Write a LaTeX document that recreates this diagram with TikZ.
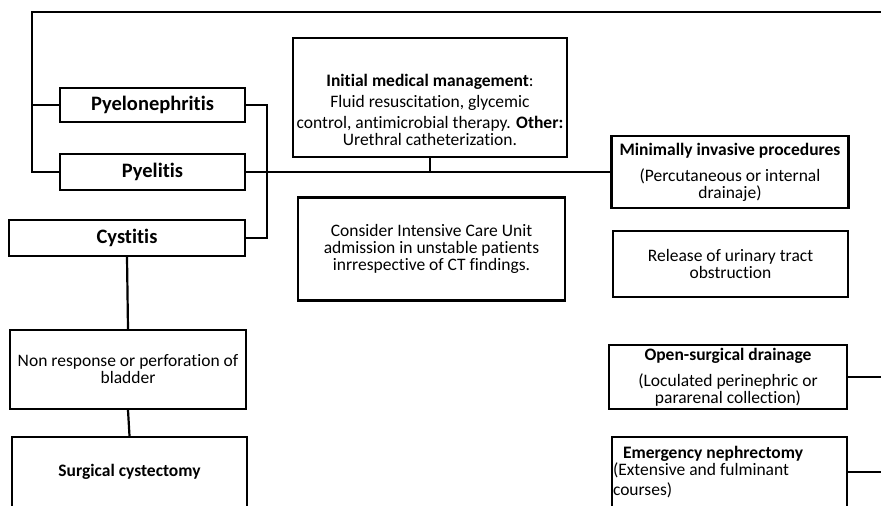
\documentclass[tikz,border=0pt]{standalone}
\usepackage{fontspec}
\setmainfont{Carlito}[RawFeature={-liga}]
\usetikzlibrary{calc}

\begin{document}
\begin{tikzpicture}[x=1pt,y=-1pt,
    box/.style={draw,line width=2.2pt,align=center,inner sep=1pt,font=\fontsize{17.5}{17}\selectfont},
    bigbox/.style={box,font=\fontsize{20.5}{20}\selectfont\bfseries},
    link/.style={line width=2.2pt}]
            \clip (0,0) rectangle (881,506);
            % left column
            \node[bigbox,minimum width=185,minimum height=34] (pyelo) at (152.5,105) {Pyelonephritis};
            \node[bigbox,minimum width=185,minimum height=36] (pyel) at (152.5,172) {Pyelitis};
            \node[bigbox,minimum width=236,minimum height=36] (cyst) at (127,238) {Cystitis};
            \node[box,minimum width=236,minimum height=79] (nonresp) at (128,369.5) {Non response or perforation of\\ bladder};
            \node[box,minimum width=235,minimum height=70,font=\fontsize{17.5}{17}\selectfont\bfseries] (surg) at (129.5,472) {Surgical cystectomy};

            % middle column
            \node[box,minimum width=274,minimum height=119] (init) at (430,97.5) {};
            \node[align=center,inner sep=0pt,font=\fontsize{17.5}{17}\selectfont] (inittext) at ($(init.center)+(0,12)$) {\textbf{Initial medical management}:\\[4pt] Fluid resuscitation, glycemic\\[4pt] control, antimicrobial therapy. \textbf{Other:}\\ Urethral catheterization.};
            \node[box,minimum width=267,minimum height=103] (icu) at (431.5,249) {Consider Intensive Care Unit\\ admission in unstable patients\\ inrrespective of CT findings.};

            % right column
            \node[box,minimum width=237,minimum height=72] (mini) at (730,172) {\textbf{Minimally invasive procedures}\\[9pt] (Percutaneous or internal\\ drainaje)};
            \node[box,minimum width=235,minimum height=66] (release) at (730.5,264) {Release of urinary tract\\ obstruction};
            \node[box,minimum width=238,minimum height=64] (open) at (728,377) {\textbf{Open-surgical drainage}\\[9pt] (Loculated perinephric or\\ pararenal collection)};
            \node[box,minimum width=235,minimum height=70,text width=233,align=flush left,inner sep=0pt] (emerg) at (729.5,472) {\hspace*{10pt}\textbf{Emergency nephrectomy}\\ (Extensive and fulminant\\[3pt] courses)};

            \coordinate (topend) at (881,12);
            \coordinate (corner) at (32,12);
            \coordinate (brk) at (267,105);

            \draw[link] (topend) -- (corner) |- (pyel.west);
            \draw[link] (pyelo.west) -- (pyelo.west -| corner);
            \draw[link] (pyelo.east) -- (pyelo.east -| brk) |- (cyst.east);
            \draw[link] (pyel.east) -- (mini.west);
            \draw[link] (init.south) -- (init.south |- pyel.east);
            \draw[link] (cyst.south) -- (nonresp.north);
            \draw[link] (nonresp.south) -- (surg.north);
            \draw[link] (open.east) -- (open.east -| topend);
            \draw[link] (emerg.east) -- (emerg.east -| topend);
        \end{tikzpicture}
\end{document}
